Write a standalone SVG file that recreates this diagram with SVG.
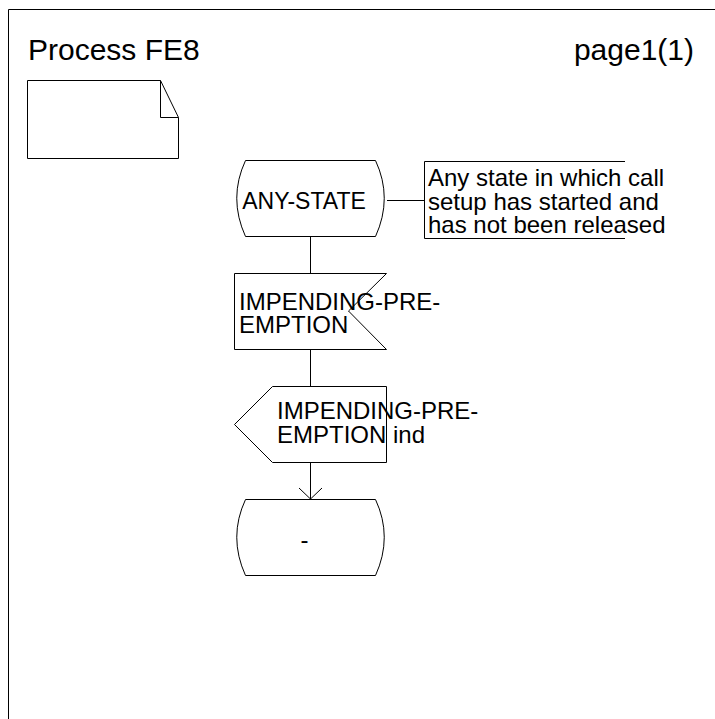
<svg xmlns="http://www.w3.org/2000/svg" width="715" height="719" viewBox="0 0 715 719">
<style>
.s{fill:#fff;stroke:#000;stroke-width:1}
.l{fill:none;stroke:#000;stroke-width:1}
text{font-family:"Liberation Sans",Arial,sans-serif;fill:#000}
.t{font-size:24px}
.h{font-size:30px}
</style>
<rect width="715" height="719" fill="#fff"/>
<g id="frame">
<path class="l" d="M8.5,719 V9.5 H715"/>
<text class="h" x="28" y="60">Process FE8</text>
<text class="h" x="694" y="60" text-anchor="end">page1(1)</text>
</g>
<g id="note">
<path class="s" d="M27.5,80.5 H160.5 L178.5,117.5 V158.5 H27.5 Z"/>
<path class="l" d="M160.5,80.5 V117.5 H178.5"/>
</g>
<g id="connectors">
<path class="l" d="M310.5,236 V273"/>
<path class="l" d="M310.5,349 V386"/>
<path class="l" d="M310.5,462 V499"/>
<path class="l" d="M299,488 L310.5,499 L322,488"/>
<path class="l" d="M387,200.5 H424"/>
</g>
<g id="anystate">
<path class="s" d="M245.5,160.5 H375.5 Q393,198 375.5,236.5 H245.5 Q228,198 245.5,160.5 Z"/>
<text class="t" x="304" y="209" text-anchor="middle" style="font-size:23px">ANY-STATE</text>
</g>
<g id="comment">
<path class="l" d="M625,161.5 H424.5 V238.5 H625"/>
<text class="t" x="428" y="186">Any state in which call</text>
<text class="t" x="428" y="209.5">setup has started and</text>
<text class="t" x="428" y="233">has not been released</text>
</g>
<g id="input">
<path class="s" d="M234.5,273.5 H386.5 L348.5,311 L386.5,349.5 H234.5 Z"/>
<text class="t" x="239" y="310">IMPENDING-PRE-</text>
<text class="t" x="239" y="333">EMPTION</text>
</g>
<g id="output">
<path class="s" d="M272.5,386.5 H386.5 V462.5 H272.5 L234.5,424.5 Z"/>
<text class="t" x="277" y="419">IMPENDING-PRE-</text>
<text class="t" x="277" y="443">EMPTION ind</text>
</g>
<g id="endstate">
<path class="s" d="M245.5,499.5 H375.5 Q393,537 375.5,575.5 H245.5 Q228,537 245.5,499.5 Z"/>
<text class="t" x="304.5" y="548" text-anchor="middle">-</text>
</g>
</svg>
